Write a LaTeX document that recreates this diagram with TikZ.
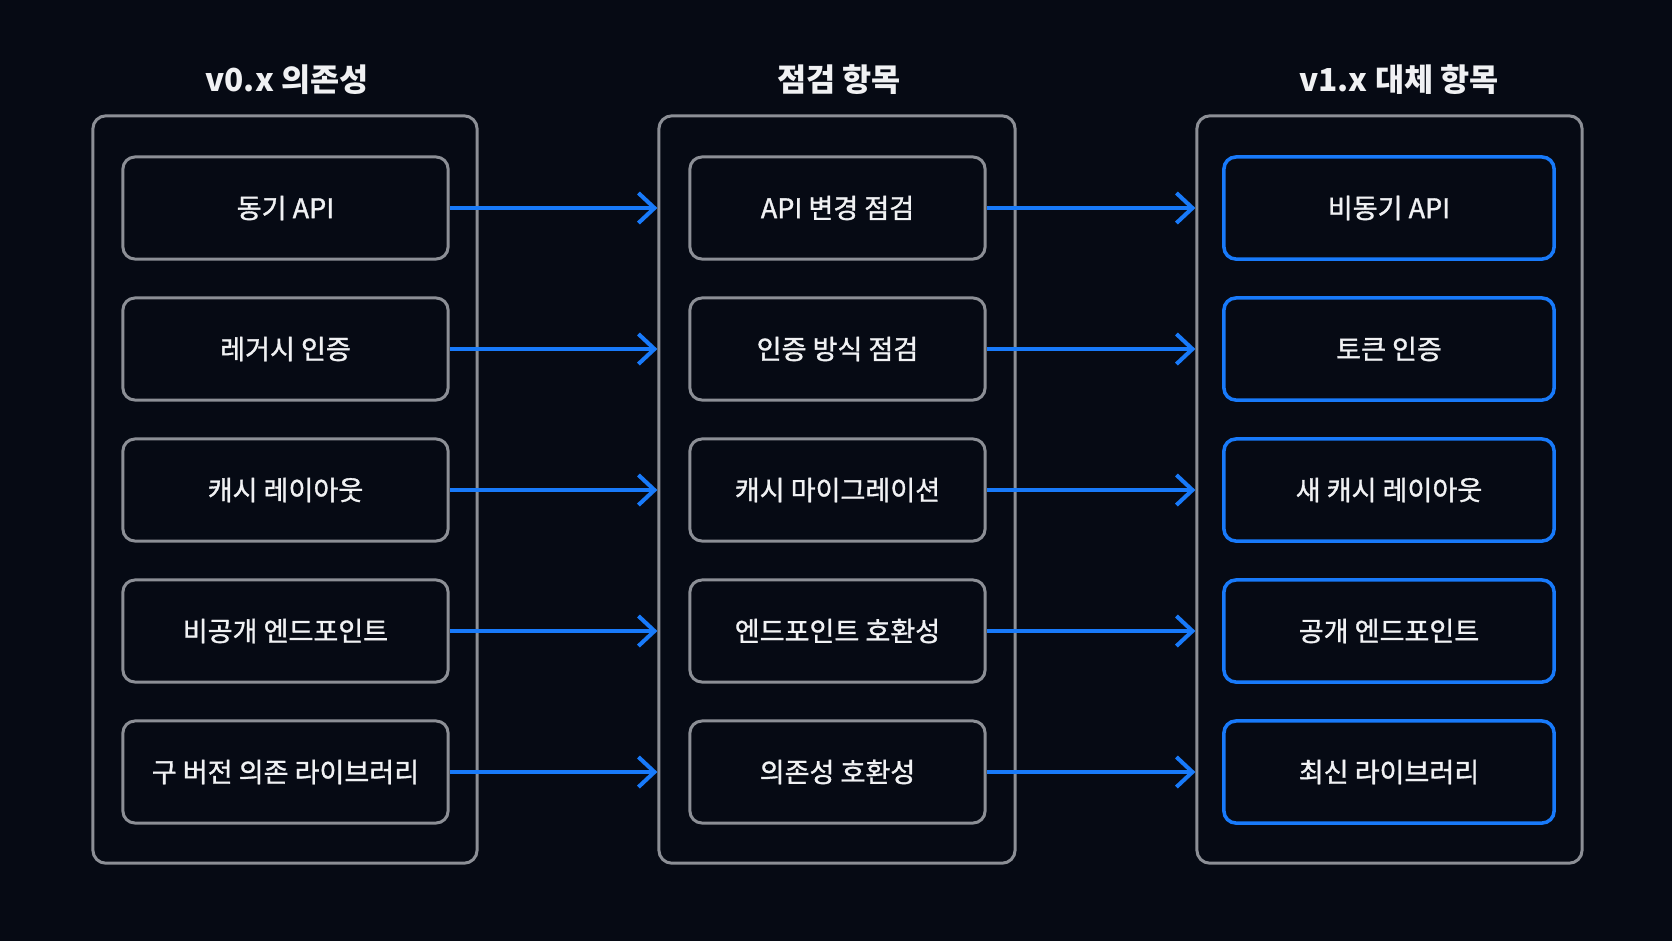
\documentclass[tikz,border=0pt]{standalone}
\usepackage{fontspec}
\usepackage{xcolor}
\usepackage{tikz}
\usetikzlibrary{arrows.meta}
\usetikzlibrary{positioning}
\newfontfamily\krfont{Noto Sans CJK KR}
\newfontfamily\krmid{Noto Sans CJK KR}[FakeBold=1.2]
\definecolor{bgc}{RGB}{6,10,20}
\definecolor{frame}{RGB}{140,143,150}
\definecolor{link}{RGB}{24,122,250}
\definecolor{ink}{RGB}{240,241,243}
\tikzset{>={Straight Barb[length=1.6mm, width=3mm]}}
\tikzstyle{column} = [draw=frame, line width=0.85pt, rounded corners=0.13cm, minimum width=3.84cm, minimum height=7.47cm]
\tikzstyle{title} = [text=ink, font=\krfont\bfseries\fontsize{9}{10.8}\selectfont]
\tikzstyle{item} = [draw=frame, line width=0.85pt, fill=bgc, rounded corners=0.12cm, minimum height=1.02cm, text=ink, font=\krmid\fontsize{7.7}{9.2}\selectfont]
\tikzstyle{newitem} = [item, draw=link, line width=1pt]
\tikzstyle{flow} = [->, draw=link, line width=1.15pt]

\begin{document}
\begin{tikzpicture}[x=0.01cm, y=-0.01cm]
\fill [bgc] (0, 0) rectangle (1672, 941);
\useasboundingbox (0, 0) rectangle (1672, 941);
% column frames
\node [column] (OLD) at (285, 489.5) {};
\node [column, minimum width=3.56cm] (CHK) at (837, 489.5) {};
\node [column, minimum width=3.85cm] (NEW) at (1389.5, 489.5) {};
\node [title] (T1) at (287, 80) {v0.x 의존성};
\node [title] (T2) at (839, 80) {점검 항목};
\node [title] (T3) at (1399, 80) {v1.x 대체 항목};
% v0.x
\node [item, minimum width=3.25cm] (O1) at (285.5, 208) {동기 API};
\node [item, minimum width=3.25cm] (O2) at (285.5, 349) {레거시 인증};
\node [item, minimum width=3.25cm] (O3) at (285.5, 490) {캐시 레이아웃};
\node [item, minimum width=3.25cm] (O4) at (285.5, 631) {비공개 엔드포인트};
\node [item, minimum width=3.25cm] (O5) at (285.5, 772) {구 버전 의존 라이브러리};
% checks
\node [item, minimum width=2.95cm] (C1) at (837.5, 208) {API 변경 점검};
\node [item, minimum width=2.95cm] (C2) at (837.5, 349) {인증 방식 점검};
\node [item, minimum width=2.95cm] (C3) at (837.5, 490) {캐시 마이그레이션};
\node [item, minimum width=2.95cm] (C4) at (837.5, 631) {엔드포인트 호환성};
\node [item, minimum width=2.95cm] (C5) at (837.5, 772) {의존성 호환성};
% v1.x
\node [newitem, minimum width=3.3cm] (N1) at (1389, 208) {비동기 API};
\node [newitem, minimum width=3.3cm] (N2) at (1389, 349) {토큰 인증};
\node [newitem, minimum width=3.3cm] (N3) at (1389, 490) {새 캐시 레이아웃};
\node [newitem, minimum width=3.3cm] (N4) at (1389, 631) {공개 엔드포인트};
\node [newitem, minimum width=3.3cm] (N5) at (1389, 772) {최신 라이브러리};
\draw [flow] (O1.east) to (O1.east -| CHK.west);
\draw [flow] (O2.east) to (O2.east -| CHK.west);
\draw [flow] (O3.east) to (O3.east -| CHK.west);
\draw [flow] (O4.east) to (O4.east -| CHK.west);
\draw [flow] (O5.east) to (O5.east -| CHK.west);
\draw [flow] (C1.east) to (C1.east -| NEW.west);
\draw [flow] (C2.east) to (C2.east -| NEW.west);
\draw [flow] (C3.east) to (C3.east -| NEW.west);
\draw [flow] (C4.east) to (C4.east -| NEW.west);
\draw [flow] (C5.east) to (C5.east -| NEW.west);
\end{tikzpicture}
\end{document}
